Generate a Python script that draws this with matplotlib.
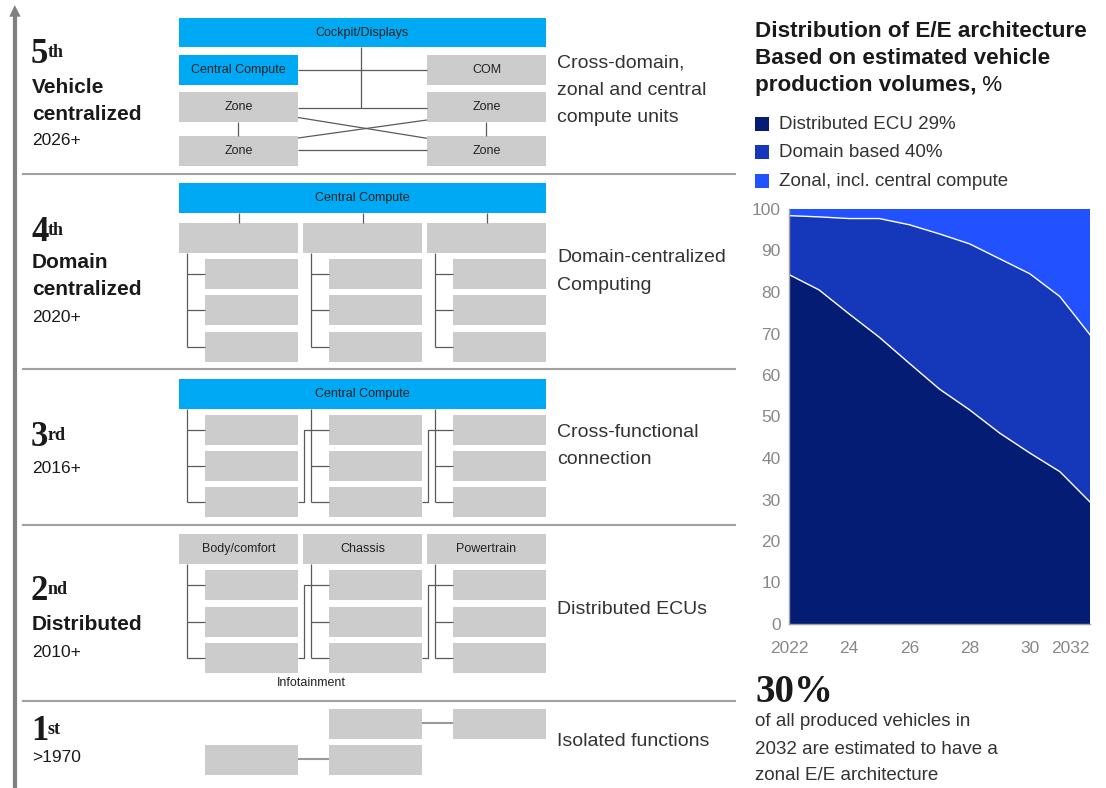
import matplotlib
matplotlib.use("Agg")
import matplotlib.pyplot as plt
from matplotlib.patches import Rectangle, Polygon

plt.rcParams['font.family'] = ['Liberation Sans', 'DejaVu Sans']

# --- E/E architecture share, % of produced vehicles ---
years = [2022, 2023, 2024, 2025, 2026, 2027, 2028, 2029, 2030, 2031, 2032]
distributed = [84.2, 80.5, 74.7, 69.1, 62.8, 56.6, 51.6, 46.0, 41.2, 36.7, 29.4]
domain = [14.2, 17.6, 23.0, 28.6, 33.4, 37.4, 40.0, 42.0, 43.2, 42.2, 40.3]
zonal = [1.6, 1.9, 2.3, 2.3, 3.8, 6.0, 8.4, 12.0, 15.6, 21.1, 30.3]
series_names = ['Distributed ECU %d%%' % round(distributed[-1]),
                'Domain based %d%%' % round(domain[-1]),
                'Zonal, incl. central compute']
series_colors = ['#051c75', '#1537ba', '#2251ff']
xtick_years = [2022, 2024, 2026, 2028, 2030, 2032]
xtick_labels = ['2022', '24', '26', '28', '30', '2032']

# --- generation ladder ---
ordinals = [('5', 'th'), ('4', 'th'), ('3', 'rd'), ('2', 'nd'), ('1', 'st')]
gen_names = [['Vehicle', 'centralized'], ['Domain', 'centralized'], [], ['Distributed'], []]
gen_years = ['2026+', '2020+', '2016+', '2010+', '>1970']
gen_desc = [['Cross-domain,', 'zonal and central', 'compute units'],
            ['Domain-centralized', 'Computing'],
            ['Cross-functional', 'connection'],
            ['Distributed ECUs'],
            ['Isolated functions']]
domain_labels = ['Body/comfort', 'Chassis', 'Powertrain']

BLUE = '#00a9f4'
GREY = '#cccccc'
LINE = '#5a5a5a'
TXT = '#1a1a1a'

fig = plt.figure(figsize=(11.06, 7.88), dpi=100)
ax0 = fig.add_axes([0, 0, 1, 1])
ax0.set_xlim(0, 1106)
ax0.set_ylim(788, 0)
ax0.axis('off')

cols = [(179, 298), (303, 422), (427, 546)]
subs = [(205, 298), (329, 422), (453, 546)]
trunk = [187.3, 311.3, 435.3]


def box(x0, x1, y0, y1, color=GREY, label=None, fs=9):
    ax0.add_patch(Rectangle((x0, y0), x1 - x0, y1 - y0, facecolor=color, lw=0))
    if label:
        ax0.text((x0 + x1) / 2, (y0 + y1) / 2, label, ha='center', va='center',
                 fontsize=fs, color='#222222')


def seg(xs, ys, color=LINE, lw=0.9):
    ax0.plot(xs, ys, color=color, lw=lw, solid_capstyle='butt')


def tree(top, rows, cross=False):
    mids = [(a + b) / 2 for a, b in rows]
    for i in range(3):
        for r in rows:
            box(subs[i][0], subs[i][1], r[0], r[1])
        seg([trunk[i], trunk[i]], [top, mids[-1]])
        for m in mids:
            seg([trunk[i], subs[i][0]], [m, m])
    if cross:
        for i in range(2):
            jog = cols[i + 1][0] + 0.7
            seg([subs[i][1], jog, jog, trunk[i + 1]],
                [mids[-1], mids[-1], mids[0], mids[0]])


# rising arrow on the left
ax0.plot([14.7, 14.7], [788, 15], color='#808080', lw=3, solid_capstyle='butt')
ax0.add_patch(Polygon([[9.3, 16.7], [20.7, 16.7], [14.7, 5]], closed=True,
                      facecolor='#808080', lw=0))

# tier separators
for y in [174, 369, 524.5, 700.5]:
    ax0.plot([23, 735], [y, y], color='#a0a0a0', lw=1.5)

# 5th: vehicle centralized
box(179, 546, 18.3, 47.3, BLUE, 'Cockpit/Displays')
box(179, 298, 55, 85, BLUE, 'Central Compute')
box(427, 546, 55, 85, GREY, 'COM')
for y0, y1 in [(92.3, 121.7), (136, 165.7)]:
    box(179, 298, y0, y1, GREY, 'Zone')
    box(427, 546, y0, y1, GREY, 'Zone')
seg([361, 361], [47.3, 107.7])
seg([298, 427], [70.3, 70.3])
seg([298, 427], [107.7, 107.7])
seg([298, 427], [150.3, 150.3])
seg([298, 427], [117.5, 138.3])
seg([298, 427], [138, 120])
seg([238.3, 238.3], [121.7, 136])
seg([486.3, 486.3], [121.7, 136])

# 4th: domain centralized
box(179, 546, 183.3, 212.7, BLUE, 'Central Compute')
for i, (x0, x1) in enumerate(cols):
    box(x0, x1, 223.3, 252.7)
    cx = (x0 + x1) / 2
    seg([cx, cx], [212.7, 223.3])
tree(252.7, [(259, 288.7), (295, 324.7), (332, 361.7)])

# 3rd: cross-functional
box(179, 546, 379.3, 408.7, BLUE, 'Central Compute')
tree(408.7, [(415, 444.7), (451, 480.7), (487, 516.7)], cross=True)

# 2nd: distributed
for (x0, x1), lab in zip(cols, domain_labels):
    box(x0, x1, 534, 563.7, GREY, lab)
tree(563.7, [(570, 600), (606.7, 636.7), (643, 672.7)], cross=True)
ax0.text(311, 683.5, 'Infotainment', ha='center', va='center', fontsize=9, color='#222222')

# 1st: isolated
box(329, 422, 709, 738.7)
box(453, 546, 709, 738.7)
box(205, 298, 745, 774.7)
box(329, 422, 745, 774.7)
seg([422, 453], [723.3, 723.3], color='#999999', lw=1.5)
seg([298, 329], [759.3, 759.3], color='#999999', lw=1.5)

# generation labels
num_base = [63, 241, 446, 600, 740]
name_base = [[93, 120], [268, 295], [], [630], []]
year_base = [145, 321.7, 473, 656.7, 761.7]
for k in range(5):
    num, sup = ordinals[k]
    t = ax0.text(31, num_base[k], num, fontsize=25, fontweight='bold',
                 family='Liberation Serif', color=TXT, va='baseline', ha='left')
    ax0.annotate(sup, xy=(1, 1), xycoords=t, xytext=(-0.5, -4), textcoords='offset points',
                 fontsize=13, fontweight='bold', family='Liberation Serif',
                 color=TXT, va='top', ha='left')
    for name, yb in zip(gen_names[k], name_base[k]):
        ax0.text(32, yb, name, fontsize=15, fontweight='bold', color=TXT, va='baseline')
    ax0.text(32, year_base[k], gen_years[k], fontsize=12.5, color=TXT, va='baseline')

desc_y = [[63, 90, 117], [258, 285], [432, 459], [610], [742]]
for lines, ys in zip(gen_desc, desc_y):
    for line, y in zip(lines, ys):
        ax0.text(557, y, line, fontsize=14, color='#333333', va='center')

# chart heading and legend
for line, y in [('Distribution of E/E architecture', 31), ('Based on estimated vehicle', 58)]:
    ax0.text(755, y, line, fontsize=16.2, fontweight='bold', color=TXT, va='center')
t = ax0.text(755, 85, 'production volumes,', fontsize=16.2, fontweight='bold',
             color=TXT, va='center')
ax0.annotate(' %', xy=(1, 0), xycoords=t, fontsize=16.2, color=TXT, va='bottom', ha='left')

for name, c, y in zip(series_names, series_colors, [124, 152, 181]):
    ax0.add_patch(Rectangle((755, y - 7), 14, 14, facecolor=c, lw=0))
    ax0.text(779, y, name, fontsize=13.5, color='#333333', va='center')

# takeaway
ax0.text(755, 702, '%d%%' % round(zonal[-1]), fontsize=28,
         fontweight='bold', family='Liberation Serif', color=TXT, va='baseline')
for line, y in zip(['of all produced vehicles in', '2032 are estimated to have a',
                    'zonal E/E architecture'], [721, 749, 776]):
    ax0.text(755, y, line, fontsize=13.5, color='#333333', va='center')

# stacked area chart
ax = fig.add_axes([789 / 1106, 1 - 624 / 788, 301 / 1106, 415 / 788])
ax.stackplot(years, distributed, domain, zonal, colors=series_colors, lw=0)
upper = [a + b for a, b in zip(distributed, domain)]
ax.plot(years, distributed, color='white', lw=1)
ax.plot(years, upper, color='white', lw=1)
ax.set_xlim(2022, 2032)
ax.set_ylim(0, 100)
ax.set_yticks(range(0, 101, 10))
ax.set_xticks(xtick_years)
ax.set_xticklabels(xtick_labels)
ax.get_xticklabels()[-1].set_ha('right')
ax.tick_params(length=0, labelsize=12.5, labelcolor='#888888')
ax.tick_params(axis='y', pad=6)
ax.tick_params(axis='x', pad=12)
for s in ['top', 'right']:
    ax.spines[s].set_visible(False)
for s in ['left', 'bottom']:
    ax.spines[s].set_color('#a0a0a0')
    ax.spines[s].set_linewidth(1)

fig.savefig('out.png', dpi=100)
